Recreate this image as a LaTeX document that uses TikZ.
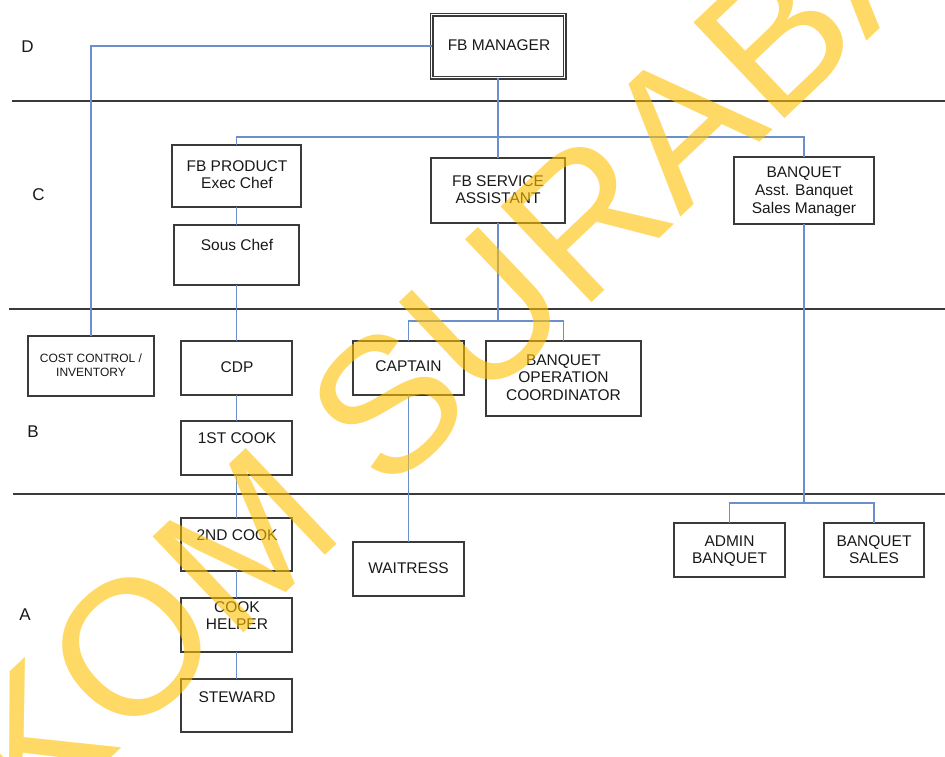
\documentclass[tikz,border=0pt]{standalone}
\usepackage{fontspec}
\setmainfont{Liberation Sans}
\definecolor{connc}{HTML}{6A8FCC}
\definecolor{edgec}{HTML}{3A3A3A}
\definecolor{wmc}{HTML}{FFC000}
\begin{document}
\begin{tikzpicture}[x=1pt,y=-1pt,
  box/.style={draw=edgec, line width=1.2pt, inner sep=0pt, outer sep=0pt},
  dbox/.style={draw=edgec, line width=1.1pt, double=white, double distance=1.8pt, inner sep=0pt, outer sep=0pt},
  conn/.style={draw=connc, line width=1.2pt},
  sepline/.style={draw=edgec, line width=1.2pt},
  lbl/.style={font=\fontsize{15.5}{18}\selectfont, anchor=base, inner sep=0pt, text=black!90},
  slbl/.style={font=\fontsize{12}{14}\selectfont, anchor=base, inner sep=0pt, text=black!90},
  lvl/.style={font=\fontsize{17}{20}\selectfont, anchor=base, inner sep=0pt, text=black!90},
  wmk/.style={font=\fontsize{192}{192}\selectfont, text=wmc, text opacity=0.6, inner sep=0pt}
]
\useasboundingbox (0,0) rectangle (945,756);
\fill[white] (0,0) rectangle (945,756);

% separator lines
\coordinate (s1a) at (12,101);  \coordinate (s1b) at (945,101);
\coordinate (s2a) at (9,309);   \coordinate (s2b) at (945,309);
\coordinate (s3a) at (13,494);  \coordinate (s3b) at (945,494);
\draw[sepline] (s1a) -- (s1b);
\draw[sepline] (s2a) -- (s2b);
\draw[sepline] (s3a) -- (s3b);

% level letters
\node[lvl] (lD) at (27.5,52) {D};
\node[lvl] (lC) at (38.5,200) {C};
\node[lvl] (lB) at (33,437) {B};
\node[lvl] (lA) at (25,620.5) {A};

% boxes
\node[dbox, minimum width=133pt, minimum height=63pt] (mgr) at (498,46) {};
\node[box, minimum width=129pt, minimum height=62pt] (prod) at (236.5,176) {};
\node[box, minimum width=125pt, minimum height=60pt] (sous) at (236.5,255) {};
\node[box, minimum width=134pt, minimum height=65pt] (serv) at (498,190.5) {};
\node[box, minimum width=140pt, minimum height=67pt] (banq) at (804,190.5) {};
\node[box, minimum width=126pt, minimum height=60pt] (cost) at (91,366) {};
\node[box, minimum width=111pt, minimum height=54pt] (cdp) at (236.5,368) {};
\node[box, minimum width=111pt, minimum height=54pt] (cook1) at (236.5,448) {};
\node[box, minimum width=111pt, minimum height=54pt] (capt) at (408.5,368) {};
\node[box, minimum width=155pt, minimum height=75pt] (bop) at (563.5,378.5) {};
\node[box, minimum width=111pt, minimum height=53pt] (cook2) at (236.5,544.5) {};
\node[box, minimum width=111pt, minimum height=54pt] (helper) at (236.5,625) {};
\node[box, minimum width=111pt, minimum height=53pt] (stew) at (236.5,705.5) {};
\node[box, minimum width=111pt, minimum height=54pt] (wait) at (408.5,569) {};
\node[box, minimum width=111pt, minimum height=54pt] (admin) at (729.5,550) {};
\node[box, minimum width=100pt, minimum height=54pt] (sales) at (874,550) {};

% box texts
\node[lbl] (tmgr) at (499,50.5) {FB MANAGER};
\node[lbl] (tprod1) at (237,171.5) {FB PRODUCT};
\node[lbl] (tprod2) at (237,188.5) {Exec Chef};
\node[lbl] (tsous) at (237,250) {Sous Chef};
\node[lbl] (tserv1) at (498,186) {FB SERVICE};
\node[lbl] (tserv2) at (498,203.5) {ASSISTANT};
\node[lbl] (tbanq1) at (804,177.5) {BANQUET};
\node[lbl] (tbanq2) at (804,195.5) {Asst. Banquet};
\node[lbl] (tbanq3) at (804,213) {Sales Manager};
\node[slbl] (tcost1) at (91,362.3) {COST CONTROL /};
\node[slbl] (tcost2) at (91,376.8) {INVENTORY};
\node[lbl] (tcdp) at (237,372) {CDP};
\node[lbl] (tcook1) at (237,443.5) {1ST COOK};
\node[lbl] (tcapt) at (408.5,371.5) {CAPTAIN};
\node[lbl] (tbop1) at (563.5,365) {BANQUET};
\node[lbl] (tbop2) at (563.5,382.5) {OPERATION};
\node[lbl] (tbop3) at (563.5,400) {COORDINATOR};
\node[lbl] (twait) at (408.5,573.5) {WAITRESS};
\node[lbl] (tadmin1) at (729.5,546) {ADMIN};
\node[lbl] (tadmin2) at (729.5,563) {BANQUET};
\node[lbl] (tsales1) at (874,546) {BANQUET};
\node[lbl] (tsales2) at (874,563) {SALES};
\node[lbl] (tcook2) at (237,540.5) {2ND COOK};
\node[lbl] (thelp1) at (237,612) {COOK};
\node[lbl] (thelp2) at (237,629.5) {HELPER};
\node[lbl] (tstew) at (237,702) {STEWARD};

% connectors
\coordinate (bus1) at (498,137);
\coordinate (bus2) at (498,321);
\coordinate (bus3) at (804,503);
\draw[conn] (mgr.west) -| (cost.north);
\draw[conn] (mgr.south) -- (serv.north);
\draw[conn] (prod.north) -- (prod.north |- bus1) -- (banq.north |- bus1) -- (banq.north);
\draw[conn] (prod.south) -- (sous.north);
\draw[conn] (sous.south) -- (cdp.north);
\draw[conn] (cdp.south) -- (cook1.north);
\draw[conn] (cook1.south) -- (cook2.north);
\draw[conn] (cook2.south) -- (helper.north);
\draw[conn] (helper.south) -- (stew.north);
\draw[conn] (serv.south) -- (bus2);
\draw[conn] (capt.north) -- (capt.north |- bus2) -- (bop.north |- bus2) -- (bop.north);
\draw[conn] (capt.south) -- (wait.north);
\draw[conn] (banq.south) -- (bus3);
\draw[conn] (admin.north) -- (admin.north |- bus3) -- (sales.north |- bus3) -- (sales.north);

% watermark
\begin{scope}
\clip (0,0) rectangle (945,756);
\node[wmk, rotate=43.5, anchor=base west] (wm) at (-186,1040) {STIKOM SURABAYA};
\end{scope}
\end{tikzpicture}
\end{document}
